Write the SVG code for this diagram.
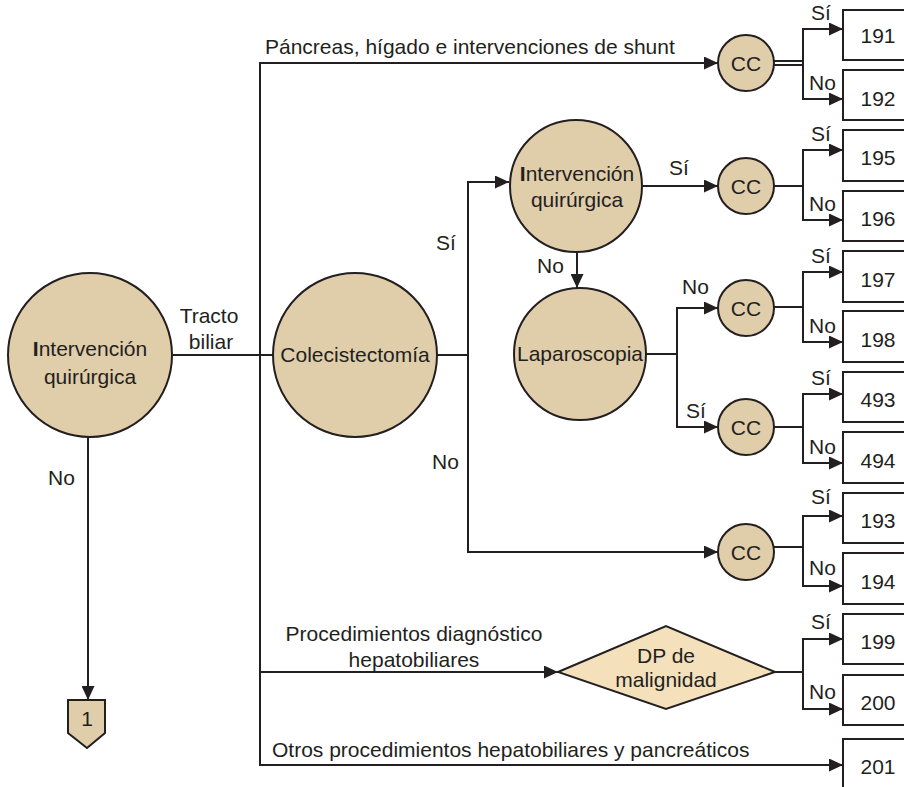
<svg xmlns="http://www.w3.org/2000/svg" width="904" height="787" viewBox="0 0 904 787">
<style>
text{font-family:"Liberation Sans",Arial,sans-serif;font-size:21px;fill:#231f20}
.c{text-anchor:middle}
.n{fill:#e0cdaa;stroke:#231f20;stroke-width:2}
.b{fill:#fff;stroke:#231f20;stroke-width:2}
.l{fill:none;stroke:#231f20;stroke-width:2}
</style>
<defs>
<marker id="ah" viewBox="0 0 14 13" refX="14" refY="6.5" markerWidth="14" markerHeight="13" orient="auto" markerUnits="userSpaceOnUse"><path d="M0,0 L14,6.5 L0,13 z" fill="#231f20"/></marker>
</defs>
<rect width="904" height="787" fill="#fff"/>
<g id="connectors">
<path class="l" d="M173,355 H260"/>
<path class="l" d="M260,355 H273"/>
<path class="l" d="M260,672 V63 H718" marker-end="url(#ah)"/>
<path class="l" d="M260,672 V765 H843" marker-end="url(#ah)"/>
<path class="l" d="M260,672 H558" marker-end="url(#ah)"/>
<path class="l" d="M437,355 H468"/>
<path class="l" d="M468,355 V182 H509" marker-end="url(#ah)"/>
<path class="l" d="M468,355 V552 H718" marker-end="url(#ah)"/>
<path class="l" d="M643,186 H718" marker-end="url(#ah)"/>
<path class="l" d="M577,251 V288" marker-end="url(#ah)"/>
<path class="l" d="M646,354 H677"/>
<path class="l" d="M677,354 V308 H718" marker-end="url(#ah)"/>
<path class="l" d="M677,354 V427 H718" marker-end="url(#ah)"/>
<path class="l" d="M88,437 V700" marker-end="url(#ah)"/>
<path class="l" d="M774,61 H803 M774,65 H803" stroke-width="1.5"/>
<path class="l" d="M803,63 V29 H843" marker-end="url(#ah)"/>
<path class="l" d="M803,63 V99 H843" marker-end="url(#ah)"/>
<path class="l" d="M774,186 H803"/>
<path class="l" d="M803,186 V150 H843" marker-end="url(#ah)"/>
<path class="l" d="M803,186 V220 H843" marker-end="url(#ah)"/>
<path class="l" d="M774,307 H803"/>
<path class="l" d="M803,307 V272 H843" marker-end="url(#ah)"/>
<path class="l" d="M803,307 V342 H843" marker-end="url(#ah)"/>
<path class="l" d="M774,427 H803"/>
<path class="l" d="M803,427 V394 H843" marker-end="url(#ah)"/>
<path class="l" d="M803,427 V463 H843" marker-end="url(#ah)"/>
<path class="l" d="M774,547 H803"/>
<path class="l" d="M803,547 V516 H843" marker-end="url(#ah)"/>
<path class="l" d="M803,547 V586 H843" marker-end="url(#ah)"/>
<path class="l" d="M775,672 H803"/>
<path class="l" d="M803,672 V639 H843" marker-end="url(#ah)"/>
<path class="l" d="M803,672 V709 H843" marker-end="url(#ah)"/>
</g>
<g id="labels">
<text x="265" y="54">Páncreas, hígado e intervenciones de shunt</text>
<text class="c" x="209" y="323">Tracto</text>
<text class="c" x="211" y="349">biliar</text>
<text x="436" y="250">Sí</text>
<text x="432" y="469">No</text>
<text x="669" y="175">Sí</text>
<text x="537" y="273">No</text>
<text x="682" y="294">No</text>
<text x="686" y="418">Sí</text>
<text x="48" y="485">No</text>
<text class="c" x="414" y="641">Procedimientos diagnóstico</text>
<text class="c" x="414" y="667">hepatobiliares</text>
<text x="272" y="757">Otros procedimientos hepatobiliares y pancreáticos</text>
<text x="811" y="20">Sí</text>
<text x="809" y="90">No</text>
<text x="811" y="141">Sí</text>
<text x="809" y="211">No</text>
<text x="811" y="263">Sí</text>
<text x="809" y="333">No</text>
<text x="811" y="385">Sí</text>
<text x="809" y="454">No</text>
<text x="811" y="504">Sí</text>
<text x="809" y="575">No</text>
<text x="811" y="629">Sí</text>
<text x="809" y="699">No</text>
</g>
<g id="n-int1"><circle class="n" cx="90" cy="355" r="82"/><text class="c" x="90" y="356"><tspan font-weight="bold">I</tspan>ntervención</text><text class="c" x="90" y="384">quirúrgica</text></g>
<g id="n-cole"><circle class="n" cx="355" cy="355" r="82"/><text class="c" x="355" y="362">Colecistectomía</text></g>
<g id="n-int2"><circle class="n" cx="576" cy="186" r="66"/><text class="c" x="577" y="181"><tspan font-weight="bold">I</tspan>ntervención</text><text class="c" x="577" y="207">quirúrgica</text></g>
<g id="n-lap"><circle class="n" cx="580" cy="354" r="66"/><text class="c" x="580" y="361">Laparoscopia</text></g>
<g id="n-cc1"><circle class="n" cx="746" cy="63" r="28"/><text class="c" x="746" y="71">CC</text></g>
<g id="n-cc2"><circle class="n" cx="746" cy="186" r="28"/><text class="c" x="746" y="194">CC</text></g>
<g id="n-cc3"><circle class="n" cx="746" cy="308" r="28"/><text class="c" x="746" y="316">CC</text></g>
<g id="n-cc4"><circle class="n" cx="746" cy="427" r="28"/><text class="c" x="746" y="435">CC</text></g>
<g id="n-cc5"><circle class="n" cx="746" cy="552" r="28"/><text class="c" x="746" y="560">CC</text></g>
<g id="n-dp"><polygon points="558,672 666,626 775,672 666,709" fill="#f5e0bc" stroke="#231f20" stroke-width="2"/><text class="c" x="666" y="663">DP de</text><text class="c" x="666" y="687">malignidad</text></g>
<g id="n-1"><polygon points="68,700 105,700 105,733 87,748 68,733" class="n"/><text class="c" x="87" y="726">1</text></g>
<g id="b191"><rect class="b" x="843" y="10" width="70" height="50"/><text class="c" x="878" y="43">191</text></g>
<g id="b192"><rect class="b" x="843" y="70" width="70" height="50"/><text class="c" x="878" y="106">192</text></g>
<g id="b195"><rect class="b" x="843" y="130" width="70" height="51"/><text class="c" x="878" y="165">195</text></g>
<g id="b196"><rect class="b" x="843" y="191" width="70" height="50"/><text class="c" x="878" y="226">196</text></g>
<g id="b197"><rect class="b" x="843" y="251" width="70" height="51"/><text class="c" x="878" y="287">197</text></g>
<g id="b198"><rect class="b" x="843" y="311" width="70" height="51"/><text class="c" x="878" y="347">198</text></g>
<g id="b493"><rect class="b" x="843" y="372" width="70" height="50"/><text class="c" x="878" y="407">493</text></g>
<g id="b494"><rect class="b" x="843" y="432" width="70" height="51"/><text class="c" x="878" y="468">494</text></g>
<g id="b193"><rect class="b" x="843" y="493" width="70" height="50"/><text class="c" x="878" y="528">193</text></g>
<g id="b194"><rect class="b" x="843" y="553" width="70" height="51"/><text class="c" x="878" y="589">194</text></g>
<g id="b199"><rect class="b" x="843" y="614" width="70" height="50"/><text class="c" x="878" y="649">199</text></g>
<g id="b200"><rect class="b" x="843" y="675" width="70" height="50"/><text class="c" x="878" y="710">200</text></g>
<g id="b201"><rect class="b" x="843" y="739" width="70" height="60"/><text class="c" x="878" y="774">201</text></g>
</svg>
